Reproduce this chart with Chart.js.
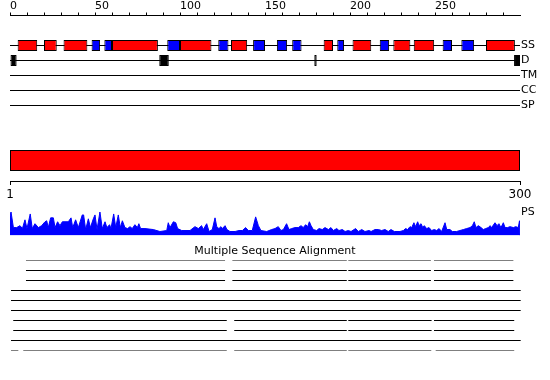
<!DOCTYPE html>
<html>
<head>
<meta charset="utf-8">
<script src="https://cdn.jsdelivr.net/npm/chart.js@4.4.0/dist/chart.umd.min.js"></script>
<style>
  html, body { margin: 0; padding: 0; background: #fff; }
  #wrap { position: relative; width: 550px; height: 380px; overflow: hidden; }
  .box { position: absolute; left: 0; width: 550px; }
</style>
</head>
<body>
<div id="wrap">
  <div class="box" style="top:0;height:115px"><canvas id="features"></canvas></div>
  <div class="box" style="top:140px;height:65px"><canvas id="domain"></canvas></div>
  <div class="box" style="top:200px;height:43px"><canvas id="ps"></canvas></div>
  <div class="box" style="top:240px;height:120px"><canvas id="msa"></canvas></div>
</div>
<script>
// sequence and feature tracks (residue positions)
const seqLen = 300;
const trackLabels = ['SS', 'D', 'TM', 'CC', 'SP'];
const helices = [[4.5, 16], [20, 27.5], [31.5, 45.5], [60, 87], [100, 118.5], [130, 139.5],
  [184.5, 190], [201.5, 212.5], [225.5, 235.5], [237.5, 249.5], [280, 297]];
const strands = [[48, 53], [55.5, 60], [92.5, 100], [122.5, 128.5], [143, 150], [157, 163],
  [166, 171.5], [192.5, 196.5], [217.5, 223], [254.5, 260], [265.5, 273]];
const disorder = [[0, 3.9], [87.8, 93.4], [179, 180.4], [296.5, 300]];

// domain bar and its axis
const domains = [[1, 300]];
const domainTicks = [1, 300];

// PS profile
const psPos = [0, 0.6, 2, 3.9, 5.9, 7.3, 8.8, 10, 11.9, 13.1, 14.7, 16.7, 18.6, 20.6, 21.6, 22.5,
  23.9, 25.5, 26.5, 28, 29.4, 30.8, 34.3, 35.9, 36.9, 38.6, 40.2, 42.5, 43.3, 44.5, 46.1, 47.3,
  49, 50, 51.2, 52.9, 54.3, 55.9, 57, 58.6, 59.4, 61, 62.2, 63.7, 64.9, 66.1, 67.6, 69.2,
  70.6, 71.9, 73.5, 74.9, 75.8, 76.8, 79.4, 84.3, 88.2, 92.2, 93.1, 94.1, 96.1, 97.5, 98.6, 101,
  105.9, 108.8, 110.8, 112.7, 113.7, 115.7, 117.1, 119, 120.6, 121.6, 122.9, 124.1, 124.9, 126.5, 127.6, 129.4,
  132.4, 134.7, 136.7, 138.6, 140.2, 142.5, 144.5, 146.1, 147.6, 151, 153.9, 155.9, 157.8, 159.4, 160.8, 162.7,
  164.1, 165.7, 167.6, 169.6, 171.2, 172.5, 173.9, 175.1, 176.1, 177.1, 178.4, 180.4, 181.8, 183.7, 185.3, 187.3,
  188.8, 190.2, 192.2, 193.5, 195.5, 197.1, 199, 200.6, 203.3, 204.9, 206.9, 208.8, 211.2, 212.4, 214.7, 216.7,
  218.6, 220.6, 222.5, 224.1, 226.1, 229.4, 231.4, 232.7, 233.9, 235.3, 236.3, 237.6, 238.6, 239.8, 240.6, 241.8,
  242.8, 243.7, 245.1, 246.5, 248, 249.6, 251, 252.4, 253.9, 255.9, 256.9, 258.8, 260.2, 262.7, 264.7, 266.7,
  268.6, 270.6, 272, 273.1, 274.1, 275.5, 277.1, 278.4, 279.8, 281.4, 282.4, 283.3, 285.3, 286.5, 287.6, 288.8,
  290.2, 291.2, 292.7, 294.1, 296.1, 297.5, 299, 299.7, 300];
const psVal = [20, 24, 8, 8, 10, 7, 16, 7, 22, 7, 12, 8, 10, 14, 15, 8,
  18, 18, 8, 14, 10, 14, 14, 18, 8, 16, 8, 21, 21, 6, 17, 8,
  17, 21, 6, 24, 7, 14, 8, 11, 7, 22, 8, 21, 8, 15, 8, 7,
  9, 7, 11, 8, 12, 7, 7, 6, 4, 5, 13, 8, 14, 13, 7, 5,
  5, 9, 7, 10, 6, 12, 4, 6, 18, 9, 7, 9, 7, 10, 6, 4,
  4, 5, 5, 8, 5, 5, 19, 10, 5, 4, 6, 7, 9, 5, 6, 12,
  6, 7, 8, 8, 10, 8, 11, 9, 14, 10, 6, 5, 7, 6, 8, 6,
  8, 5, 7, 5, 6, 4, 5, 4, 7, 4, 6, 4, 5, 4, 6, 6,
  5, 6, 4, 6, 4, 4, 5, 7, 6, 9, 8, 13, 9, 14, 10, 12,
  8, 10, 7, 8, 5, 6, 5, 7, 4, 13, 6, 6, 4, 4, 5, 6,
  7, 8, 10, 14, 8, 10, 8, 6, 7, 8, 10, 8, 13, 10, 12, 8,
  13, 8, 8, 9, 8, 9, 8, 15, 0];

// multiple sequence alignment: aligned segments per sequence
const msaTitle = 'Multiple Sequence Alignment';
const msaRows = [
  [[9.4, 126.5], [130.8, 198.1], [199, 247.6], [249.4, 296.1]],
  [[9.4, 126.5], [130.8, 198.1], [199, 247.6], [249.4, 296.1]],
  [[9.4, 126.5], [130.8, 198.1], [199, 247.6], [249.4, 296.1]],
  [[0.6, 300.4]],
  [[0.6, 300.4]],
  [[0.6, 300.4]],
  [[1.9, 127.5], [131.9, 198.1], [199, 248], [249.4, 296.6]],
  [[1.9, 127.5], [131.9, 198.1], [199, 248], [249.4, 296.6]],
  [[0.6, 300.4]],
  [[0.6, 4.9], [7.8, 127.5], [131.9, 198.1], [199, 247.8], [250.4, 296.6]]
];

Chart.defaults.font.family = "'DejaVu Sans', sans-serif";
Chart.defaults.font.size = 11;
Chart.defaults.color = '#000';
Chart.defaults.animation = false;
Chart.defaults.maintainAspectRatio = false;
Chart.defaults.plugins.legend.display = false;
Chart.defaults.plugins.tooltip.enabled = false;

const toBoxes = (list, row) => list.map(([s, e]) => ({x: [s, e], y: row}));
const boxStyle = {
  type: 'bar', grouped: false, barThickness: 11, borderWidth: 1, borderColor: '#000',
  borderSkipped: false, inflateAmount: 0
};

// feature tracks with ruler on top
new Chart(document.getElementById('features'), {
  type: 'bar',
  data: {
    labels: ['', ''].concat(trackLabels),
    datasets: [
      {...boxStyle, data: toBoxes(helices, 'SS'), backgroundColor: '#ff0000'},
      {...boxStyle, data: toBoxes(strands, 'SS'), backgroundColor: '#0000ff'},
      {...boxStyle, data: toBoxes(disorder, 'D'), backgroundColor: '#000'},
      ...trackLabels.map(r => ({
        type: 'line', data: [{x: 0, y: r}, {x: seqLen, y: r}],
        borderColor: '#000', borderWidth: 1, pointRadius: 0
      }))
    ]
  },
  options: {
    indexAxis: 'y',
    layout: {padding: {left: 10, right: 0, top: 0.5, bottom: 9.5}},
    scales: {
      x: {
        type: 'linear', position: 'top', min: 0, max: seqLen,
        afterFit: s => { s.height = 15; },
        ticks: {
          stepSize: 10, maxTicksLimit: 100, autoSkip: false, maxRotation: 0, align: 'start',
          padding: 1, color: '#000', font: {size: 11, lineHeight: 1},
          callback: v => (v % 50 === 0 && v < seqLen) ? String(v) : ''
        },
        grid: {
          drawOnChartArea: false, tickLength: 3,
          color: c => (c.tick && c.tick.value >= seqLen) ? 'rgba(0,0,0,0)' : '#000'
        },
        border: {color: '#000', width: 1}
      },
      y: {
        type: 'category', position: 'right', offset: false,
        afterFit: s => { s.width = 30; },
        ticks: {autoSkip: false, padding: 1, color: '#000', font: {size: 11}},
        grid: {display: false, drawTicks: false},
        border: {display: false}
      }
    }
  }
});

// domain bar
new Chart(document.getElementById('domain'), {
  type: 'bar',
  data: {
    labels: ['domain'],
    datasets: [{
      data: toBoxes(domains, 'domain'), backgroundColor: '#ff0000', borderColor: '#000',
      borderWidth: 1, borderSkipped: false, barThickness: 21, inflateAmount: 0
    }]
  },
  options: {
    indexAxis: 'y',
    layout: {padding: {left: 10, right: 30, top: 0, bottom: 0}},
    scales: {
      x: {
        type: 'linear', position: 'bottom', min: domainTicks[0], max: domainTicks[1],
        afterFit: s => { s.height = 24; },
        afterBuildTicks: s => { s.ticks = domainTicks.map(v => ({value: v})); },
        ticks: {autoSkip: false, maxRotation: 0, padding: 4, color: '#000', font: {size: 12, lineHeight: 1}},
        grid: {drawOnChartArea: false, tickLength: 4, color: '#000'},
        border: {color: '#000', width: 1}
      },
      y: {display: false}
    }
  }
});

// PS profile
new Chart(document.getElementById('ps'), {
  type: 'line',
  data: {
    datasets: [{
      data: psPos.map((x, i) => ({x, y: psVal[i]})),
      borderColor: '#0000ff', backgroundColor: '#0000ff', borderWidth: 1,
      pointRadius: 0, tension: 0, fill: 'origin'
    }]
  },
  options: {
    layout: {padding: {left: 10, right: 0, top: 12, bottom: 7}},
    scales: {
      x: {type: 'linear', min: 0, max: seqLen, display: false},
      y: {
        type: 'linear', position: 'right', min: 0, max: 24,
        afterFit: s => { s.width = 30; },
        afterBuildTicks: s => { s.ticks = [{value: 24}]; },
        ticks: {callback: () => 'PS', padding: 1, color: '#000', font: {size: 11}},
        grid: {display: false, drawTicks: false},
        border: {display: false}
      }
    }
  }
});

// multiple sequence alignment, each aligned segment as a 1px floating bar
new Chart(document.getElementById('msa'), {
  type: 'bar',
  data: {
    datasets: msaRows.map((segs, r) => ({
      data: toBoxes(segs, r),
      backgroundColor: '#000', borderWidth: 0, barThickness: 1,
      grouped: false, inflateAmount: 0
    }))
  },
  options: {
    indexAxis: 'y',
    layout: {padding: {left: 10, right: 10, top: 0, bottom: 9.5}},
    plugins: {
      title: {
        display: true, text: msaTitle, color: '#000',
        font: {size: 11, weight: 'normal'}, padding: {top: 4.5, bottom: 2.8}
      }
    },
    scales: {
      x: {type: 'linear', min: 0, max: seqLen * 530 / 510, display: false},
      y: {type: 'linear', min: 0, max: msaRows.length - 1, reverse: true, offset: false, display: false}
    }
  }
});
</script>
</body>
</html>
